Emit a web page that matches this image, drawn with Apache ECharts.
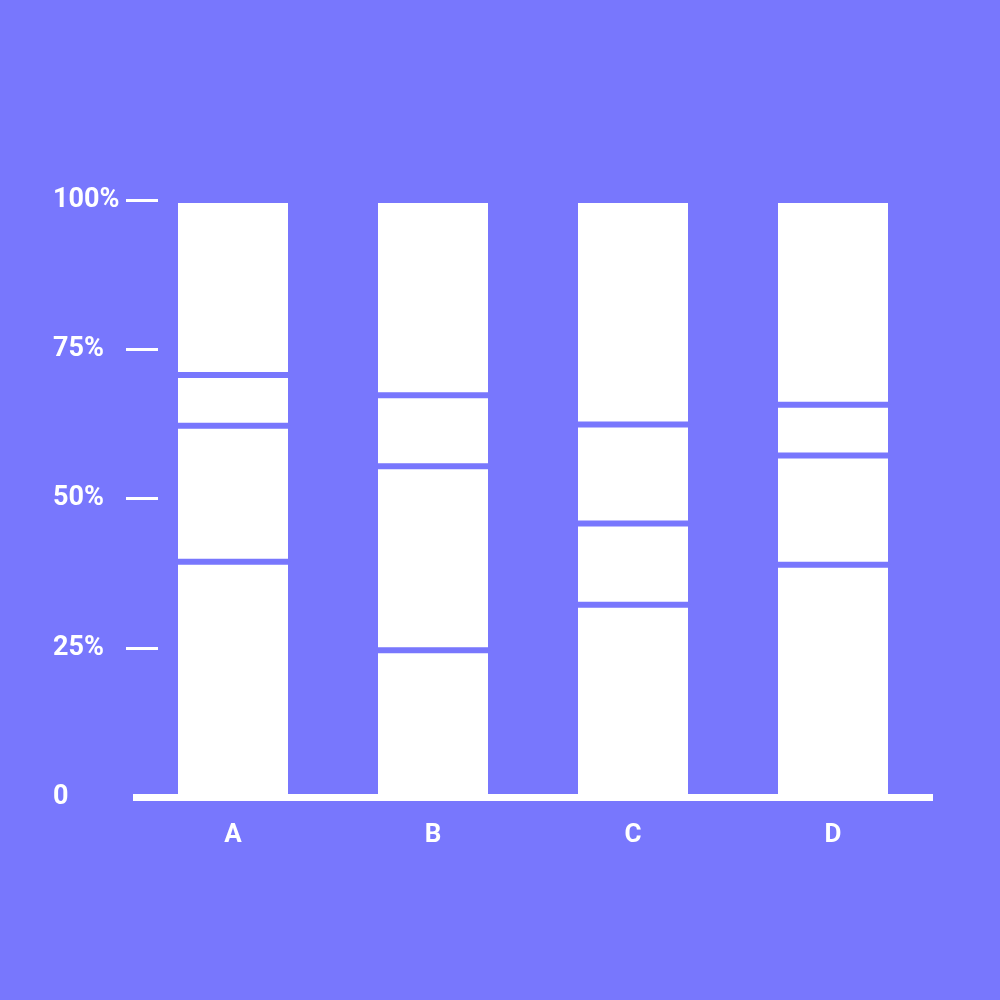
<!DOCTYPE html>
<html>
<head>
<meta charset="utf-8">
<script src="https://cdn.jsdelivr.net/npm/echarts@6/dist/echarts.min.js"></script>
<style>
  html, body { margin: 0; padding: 0; background: #7877fd; }
  #chart { width: 1000px; height: 1000px; }
</style>
</head>
<body>
<div id="chart"></div>
<script>
const categories = ["A", "B", "C", "D"];

// stacked segments, bottom to top (percent)
const seg1 = [39.4, 24.6, 32.2, 38.9];
const seg2 = [22.8, 30.8, 13.6, 18.3];
const seg3 = [8.5, 11.9, 16.6, 8.5];
const seg4 = [29.3, 32.7, 37.6, 34.3];

const yTicks = [0, 25, 50, 75, 100];

const bg = "#7877fd";

const chart = echarts.init(document.getElementById("chart"));

function makeSeries(data) {
  return {
    type: "bar",
    stack: "total",
    data: data,
    barWidth: 116,
    itemStyle: {
      color: "#ffffff",
      borderColor: bg, // purple gap between segments
      borderWidth: 3,
    },
    silent: true,
  };
}

const option = {
  backgroundColor: bg,
  animation: false,
  grid: {
    left: 133,
    right: 67,
    top: 200,
    bottom: 203,
  },
  xAxis: {
    type: "category",
    data: categories,
    z: 5,
    axisLine: {
      lineStyle: { color: "#ffffff", width: 7, cap: "butt" },
    },
    axisTick: { show: false },
    axisLabel: {
      color: "#ffffff",
      fontFamily: "Roboto",
      fontWeight: "bold",
      fontSize: 26,
      margin: 25,
    },
  },
  yAxis: {
    type: "value",
    min: yTicks[0],
    max: yTicks[yTicks.length - 1],
    interval: 25,
    offset: 7,
    axisLine: { show: false },
    splitLine: { show: false },
    axisTick: {
      show: true,
      inside: true,
      length: 32,
      customValues: yTicks.slice(1), // no tick at 0, the baseline is there
      lineStyle: { color: "#ffffff", width: 3, cap: "butt" },
    },
    axisLabel: {
      color: "#ffffff",
      fontFamily: "Roboto",
      fontWeight: "bold",
      fontSize: 27,
      align: "left",
      margin: 73,
      formatter: (v) => (v === 0 ? "0" : v + "%"),
    },
  },
  series: [makeSeries(seg1), makeSeries(seg2), makeSeries(seg3), makeSeries(seg4)],
};

chart.setOption(option);
</script>
</body>
</html>
